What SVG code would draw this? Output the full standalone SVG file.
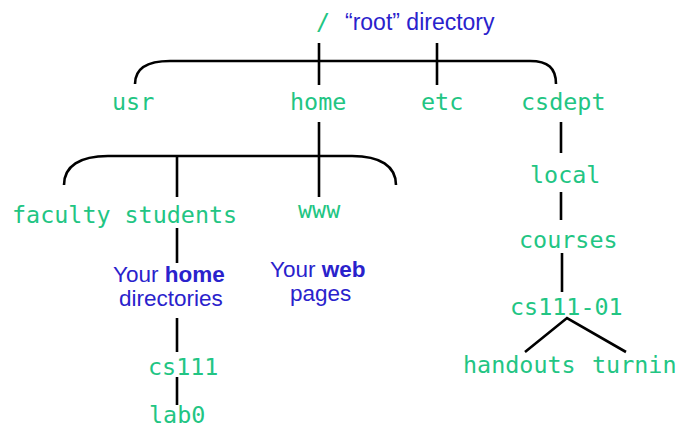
<svg xmlns="http://www.w3.org/2000/svg" width="678" height="430" viewBox="0 0 678 430">
<style>
.m{font-family:"DejaVu Sans Mono","Liberation Mono",monospace;font-size:23.4px;fill:#22c583}
.b{font-family:"Liberation Sans",Arial,sans-serif;font-size:22.5px;fill:#2a22cc}
.bb{font-weight:bold}
.c{fill:none;stroke:#000;stroke-width:2.6}
</style>
<rect width="678" height="430" fill="#fff"/>
<g id="connectors" class="c">
<path d="M135,84 C135,68 148,61 170,61 L530,61 C548,61 556,68 556,84"/>
<line x1="319" y1="43" x2="319" y2="85"/>
<line x1="437" y1="43" x2="437" y2="85"/>
<line x1="319" y1="122" x2="319" y2="197"/>
<path d="M64,185 C64,166 80,156 108,156 L352,156 C380,156 396,166 396,185"/>
<line x1="177" y1="156" x2="177" y2="197"/>
<line x1="177" y1="228" x2="177" y2="263"/>
<line x1="177" y1="318" x2="177" y2="352"/>
<line x1="177" y1="377" x2="177" y2="405"/>
<line x1="561" y1="122" x2="561" y2="153"/>
<line x1="561" y1="192" x2="561" y2="220"/>
<line x1="562" y1="253" x2="562" y2="292"/>
<polyline points="525,352 567,318 626,352"/>
</g>
<g id="root"><text class="m" x="316" y="30">/</text><text class="b" x="345" y="30" style="font-size:23px">“root” directory</text></g>
<g id="usr"><text class="m" x="112" y="110">usr</text></g>
<g id="home"><text class="m" x="290" y="110">home</text></g>
<g id="etc"><text class="m" x="421" y="110">etc</text></g>
<g id="csdept"><text class="m" x="521" y="110">csdept</text></g>
<g id="faculty"><text class="m" x="12" y="223">faculty</text></g>
<g id="students"><text class="m" x="124.5" y="223">students</text></g>
<g id="www"><text class="m" x="298" y="218">www</text></g>
<g id="home-note"><text class="b" x="113" y="282">Your <tspan class="bb">home</tspan></text><text class="b" x="119" y="306">directories</text></g>
<g id="web-note"><text class="b" x="270" y="277">Your <tspan class="bb">web</tspan></text><text class="b" x="290" y="301">pages</text></g>
<g id="cs111"><text class="m" x="148" y="375">cs111</text></g>
<g id="lab0"><text class="m" x="149" y="423">lab0</text></g>
<g id="local"><text class="m" x="530" y="183">local</text></g>
<g id="courses"><text class="m" x="519" y="248">courses</text></g>
<g id="cs111-01"><text class="m" x="510" y="315">cs111-01</text></g>
<g id="handouts"><text class="m" x="463" y="373">handouts</text></g>
<g id="turnin"><text class="m" x="592" y="373">turnin</text></g>
</svg>
